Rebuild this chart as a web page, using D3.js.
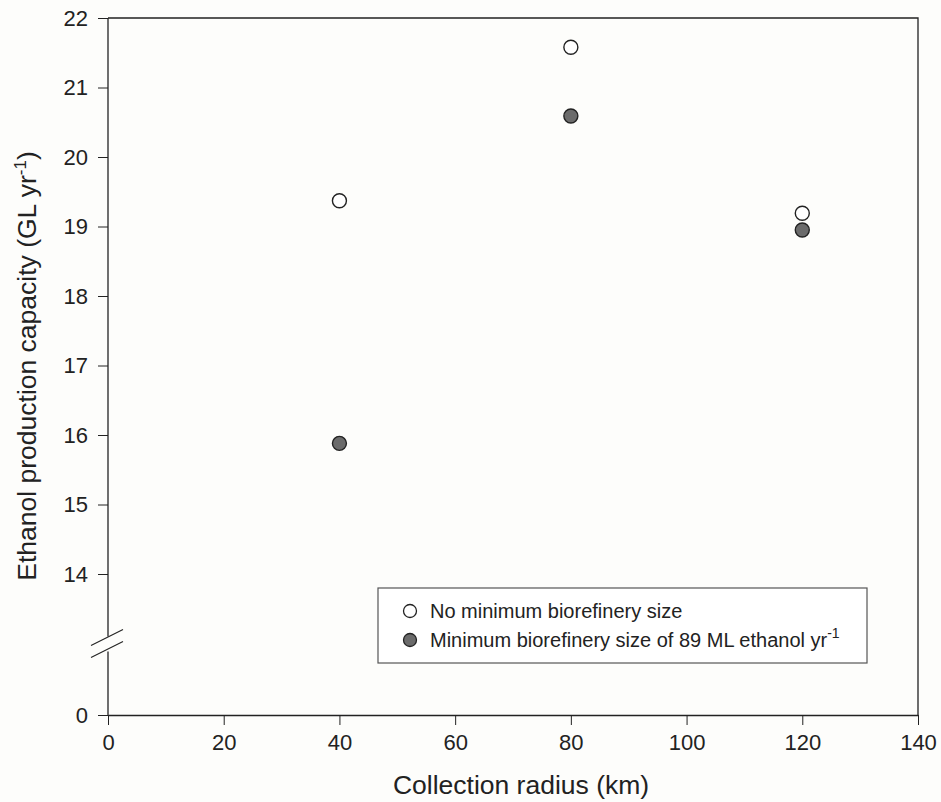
<!DOCTYPE html>
<html>
<head>
<meta charset="utf-8">
<script src="https://cdn.jsdelivr.net/npm/d3@7"></script>
<style>
  body { margin: 0; background: #fdfdfb; }
  svg { font-family: Arial, "Liberation Sans", sans-serif; }
  .axis path, .axis line { stroke: #222; }
  .axis text { font-size: 22px; fill: #222; }
</style>
</head>
<body>
<div id="chart"></div>
<script>
// data
var radius = [40, 80, 120];
var noMinimum = [19.37, 21.58, 19.19];
var withMinimum = [15.88, 20.59, 18.95];
var xTicks = [0, 20, 40, 60, 80, 100, 120, 140];
var yTicks = [0, 14, 15, 16, 17, 18, 19, 20, 21, 22];
var legendLabels = ["No minimum biorefinery size", "Minimum biorefinery size of 89 ML ethanol yr"];

var width = 941, height = 802;
var margin = {top: 18, right: 23, bottom: 87, left: 108};

var svg = d3.select("#chart").append("svg")
    .attr("width", width)
    .attr("height", height);

var x = d3.scaleLinear()
    .domain([0, 140])
    .range([margin.left, width - margin.right]);

// broken axis: 0..13 squeezed, 13..22 linear
var y = d3.scaleLinear()
    .domain([0, 13, 22])
    .range([height - margin.bottom, 643.5, margin.top]);

var breakY = y(13);

// frame top + right
svg.append("path")
    .attr("d", "M" + x(0) + "," + y(22) + "H" + x(140) + "V" + y(0))
    .attr("fill", "none")
    .attr("stroke", "#222")
    .attr("stroke-width", 1.3);

var xAxis = svg.append("g")
    .attr("class", "axis")
    .attr("transform", "translate(0," + y(0) + ")")
    .call(d3.axisBottom(x).tickValues(xTicks).tickSize(10).tickPadding(9).tickSizeOuter(0));
xAxis.select(".domain").attr("stroke-width", 1.3);

var yAxis = svg.append("g")
    .attr("class", "axis")
    .attr("transform", "translate(" + x(0) + ",0)")
    .call(d3.axisLeft(y).tickValues(yTicks).tickSize(10).tickPadding(10).tickSizeOuter(0));
yAxis.select(".domain").remove();

// y axis line with a gap at the break
yAxis.append("line")
    .attr("x1", 0).attr("x2", 0)
    .attr("y1", y(22)).attr("y2", breakY - 7)
    .attr("stroke", "#222").attr("stroke-width", 1.3);
yAxis.append("line")
    .attr("x1", 0).attr("x2", 0)
    .attr("y1", breakY + 8).attr("y2", y(0))
    .attr("stroke", "#222").attr("stroke-width", 1.3);

// the two slanted break marks
[-6, 6].forEach(function(off){
    yAxis.append("line")
        .attr("x1", -17).attr("y1", breakY + off + 8)
        .attr("x2", 15).attr("y2", breakY + off - 8)
        .attr("stroke", "#333").attr("stroke-width", 1.2);
});

// axis titles
svg.append("text")
    .attr("x", 521)
    .attr("y", 794)
    .attr("text-anchor", "middle")
    .style("font-size", "26.5px")
    .style("fill", "#222")
    .text("Collection radius (km)");

var yTitle = svg.append("text")
    .attr("transform", "translate(36," + 366 + ") rotate(-90)")
    .attr("text-anchor", "middle")
    .style("font-size", "26.5px")
    .style("fill", "#222");
yTitle.append("tspan").text("Ethanol production capacity (GL yr");
yTitle.append("tspan").attr("dy", -10).style("font-size", "17px").text("-1");
yTitle.append("tspan").attr("dy", 10).text(")");

// points
var seriesList = [
    {values: noMinimum, fill: "#ffffff"},
    {values: withMinimum, fill: "#6b6b6b"}
];

seriesList.forEach(function(s){
    svg.append("g").selectAll("circle")
        .data(radius)
        .enter().append("circle")
        .attr("cx", function(d){ return x(d); })
        .attr("cy", function(d, i){ return y(s.values[i]); })
        .attr("r", 7)
        .attr("fill", s.fill)
        .attr("stroke", "#222")
        .attr("stroke-width", 1.4);
});

// legend
var legend = svg.append("g").attr("transform", "translate(378,588)");
legend.append("rect")
    .attr("width", 489).attr("height", 75)
    .attr("fill", "#fff")
    .attr("stroke", "#555")
    .attr("stroke-width", 1.2);

legendLabels.forEach(function(label, i){
    var row = legend.append("g").attr("transform", "translate(0," + (23 + i * 29) + ")");
    row.append("circle")
        .attr("cx", 32).attr("cy", 0).attr("r", 6.5)
        .attr("fill", seriesList[i].fill)
        .attr("stroke", "#222").attr("stroke-width", 1.3);
    var t = row.append("text")
        .attr("x", 52).attr("y", 7)
        .style("font-size", "20px")
        .style("fill", "#222")
        .text(label);
    if (i == 1) {
        t.append("tspan").attr("dy", -9).style("font-size", "14px").text("-1");
    }
});
</script>
</body>
</html>
